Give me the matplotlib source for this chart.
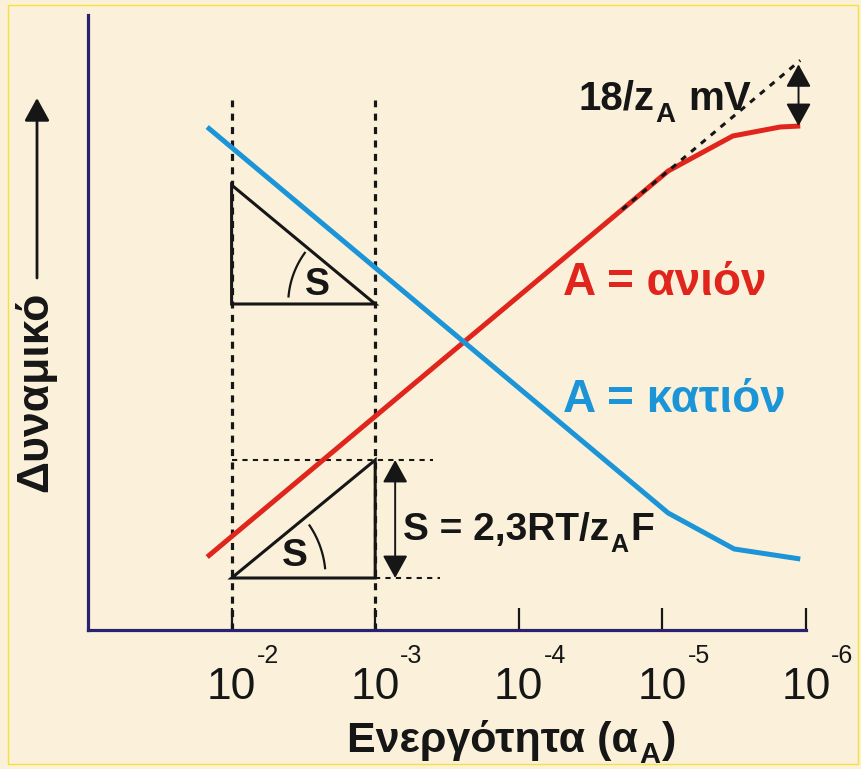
import matplotlib
matplotlib.use('Agg')
import matplotlib.pyplot as plt
from matplotlib.patches import Rectangle, Polygon
from matplotlib.transforms import offset_copy, IdentityTransform
import numpy as np

plt.rcParams['font.family'] = ['Liberation Sans', 'DejaVu Sans']

W, H, DPI = 862, 769, 100

# ---- data: x = -log10(activity), y = potential (arbitrary units) ----
red_pa = [1.83, 5.04, 5.49, 5.82, 5.96]
red_E = [73, 459, 494, 503, 504]
blue_pa = [1.83, 5.04, 5.50, 5.96]
blue_E = [503, 117, 81, 71]
tick_pa = [2, 3, 4, 5, 6]
tick_exp = ['-2', '-3', '-4', '-5', '-6']

RED = '#E0261C'
BLUE = '#1B95D7'
INK = '#161616'
NAVY = '#2A2270'
BG = '#FBF1DB'

fig = plt.figure(figsize=(W / DPI, H / DPI), dpi=DPI)
fig.patch.set_facecolor(BG)
ax = fig.add_axes([88 / W, (H - 630) / H, (806 - 88) / W, (630 - 15) / H])
ax.set_facecolor('none')
ax.set_xlim(1, 6)
ax.set_ylim(0, 615)
for s in ['top', 'right']:
    ax.spines[s].set_visible(False)
for s in ['left', 'bottom']:
    ax.spines[s].set_color(NAVY)
    ax.spines[s].set_linewidth(2.3)
ax.set_yticks([])
ax.set_xticks(tick_pa)
ax.tick_params(axis='x', direction='in', length=16, width=1.6, color=INK,
               labelbottom=False)

# pixel scale of x-units (for circular arcs)
pxx = (806 - 88) / 5.0

# dotted vertical guides
for xv in tick_pa[:2]:
    ax.plot([xv, xv], [0, 530], color=INK, lw=2.3, dashes=(2.2, 2.0), zorder=2)

# curves
ax.plot(red_pa, red_E, color=RED, lw=3.6, zorder=4, solid_capstyle='butt')
ax.plot(blue_pa, blue_E, color=BLUE, lw=3.6, zorder=4, solid_capstyle='butt')

# tangent (extension of linear part of anion curve)
slope = (red_E[1] - red_E[0]) / (red_pa[1] - red_pa[0])
tx = np.array([4.72, red_pa[-1]])
ty = red_E[0] + slope * (tx - red_pa[0])
ax.plot(tx, ty, color=INK, lw=2.2, dashes=(2.0, 2.2), zorder=5)

# 18/zA mV double arrow
arrow_style = '<|-|>,head_length=1.0,head_width=0.55'
ax.annotate('', xy=(5.948, ty[-1] - 4), xytext=(5.948, red_E[-1]),
            arrowprops=dict(arrowstyle=arrow_style, mutation_scale=14,
                            lw=1.4, color=INK, shrinkA=0, shrinkB=0), zorder=6)

# slope triangles
up_tri = Polygon([(2, 445), (2, 326), (3, 326)], closed=True, fill=False,
                 ec=INK, lw=2.2, zorder=3, joinstyle='miter')
lo_tri = Polygon([(2, 52), (3, 52), (3, 170)], closed=True, fill=False,
                 ec=INK, lw=2.2, zorder=3, joinstyle='miter')
ax.add_patch(up_tri)
ax.add_patch(lo_tri)

# angle arcs
t = np.radians(np.linspace(6, 34, 40))
ax.plot(2 + 94 * np.cos(t) / pxx, 52 + 94 * np.sin(t), color=INK, lw=1.6, zorder=3)
t = np.radians(np.linspace(144, 175, 40))
ax.plot(3 + 87 * np.cos(t) / pxx, 326 + 87 * np.sin(t), color=INK, lw=1.6, zorder=3)
ax.text(2.442, 74, 'S', fontsize=28, fontweight='bold', color=INK,
        ha='center', va='center', zorder=6)
ax.text(2.595, 345, 'S', fontsize=27, fontweight='bold', color=INK,
        ha='center', va='center', zorder=6)

# horizontal dotted lines of lower triangle
ax.plot([2, 3.40], [170, 170], color=INK, lw=1.5, dashes=(2.5, 2.5), zorder=2)
ax.plot([3, 3.45], [52, 52], color=INK, lw=1.5, dashes=(2.5, 2.5), zorder=2)
ax.annotate('', xy=(3.139, 170), xytext=(3.139, 52),
            arrowprops=dict(arrowstyle=arrow_style, mutation_scale=14,
                            lw=1.4, color=INK, shrinkA=0, shrinkB=0), zorder=6)

renderer = fig.canvas.get_renderer()


def rich(x, y, pieces, color, base):
    """pieces: (text, size, dy_px, gap_px_before)"""
    dx = 0.0
    for txt, size, dy, gap in pieces:
        dx += gap
        tr = offset_copy(base, fig=fig, x=dx, y=dy, units='dots')
        tt = ax.text(x, y, txt, transform=tr, fontsize=size, fontweight='bold',
                     color=color, ha='left', va='baseline', clip_on=False, zorder=7)
        dx += tt.get_window_extent(renderer).width


# labels inside plot
ax.text(4.31, 335, 'A = ανιόν', fontsize=33, fontweight='bold', color=RED,
        ha='left', va='baseline', zorder=7)
ax.text(4.31, 218, 'A = κατιόν', fontsize=33, fontweight='bold', color=BLUE,
        ha='left', va='baseline', zorder=7)
rich(4.415, 520, [('18/z', 29, 0, 0), ('A', 20, -12, 1), ('mV', 29, 0, 13)],
     INK, ax.transData)
rich(3.195, 90, [('S = 2,3RT/z', 28, 0, 0), ('A', 18, -12, 1), ('F', 28, 0, 2)],
     INK, ax.transData)

# tick labels 10^-n
for xv, ex in zip(tick_pa, tick_exp):
    ax.text(xv, -69, '10', fontsize=32, color=INK, ha='center', va='baseline',
            clip_on=False)
    tr = offset_copy(ax.transData, fig=fig, x=25, y=0, units='dots')
    ax.text(xv, -33, ex, transform=tr, fontsize=18, color=INK, ha='left',
            va='baseline', clip_on=False)

# x axis title
rich(347, H - 752, [('Ενεργότητα (α', 31, 0, 0), ('A', 21, -11, 1), (')', 31, 0, 2)],
     INK, IdentityTransform())

# y axis title with arrow
fig.text(35 / W, (H - 392) / H, 'Δυναμικό', rotation=90, fontsize=32,
         fontweight='bold', color=INK, ha='center', va='center')
ax.annotate('', xy=(37, H - 98), xytext=(37, H - 278), xycoords='figure pixels',
            textcoords='figure pixels',
            arrowprops=dict(arrowstyle='-|>,head_length=1.0,head_width=0.55',
                            mutation_scale=14, lw=2.0, color=INK,
                            shrinkA=0, shrinkB=0))

# thin yellow frame
fig.add_artist(Rectangle((8 / W, 5 / H), 850 / W, 759 / H, transform=fig.transFigure,
                         fill=False, ec='#F2E23A', lw=1.0))

fig.savefig('out.png', dpi=DPI, facecolor=BG)
